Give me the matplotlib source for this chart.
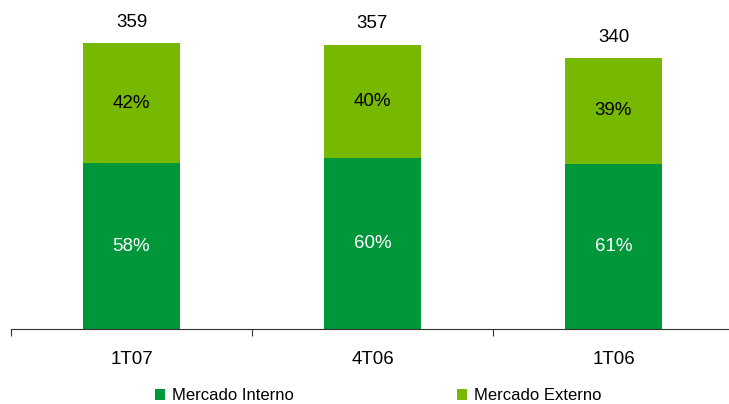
import matplotlib.pyplot as plt
import numpy as np

plt.rcParams['font.family'] = ['Liberation Sans', 'DejaVu Sans']

categories = ["1T07", "4T06", "1T06"]
totals = [359, 357, 340]
pct_interno = [58, 60, 61]
pct_externo = [42, 40, 39]

cor_interno = "#00963a"
cor_externo = "#77b800"

interno = np.array(totals) * np.array(pct_interno) / 100.0
externo = np.array(totals) - interno

fig = plt.figure(figsize=(7.29, 4.04), dpi=100)
ax = fig.add_axes([11 / 729, 75 / 404, 723 / 729, 329 / 404])

x = np.arange(len(categories))
ax.bar(x, interno, 0.4, color=cor_interno, label="Mercado Interno")
ax.bar(x, externo, 0.4, bottom=interno, color=cor_externo, label="Mercado Externo")

for i in range(len(categories)):
    ax.text(x[i], interno[i] / 2, "%d%%" % pct_interno[i], ha="center", va="center",
            color="white", fontsize=13.5)
    ax.text(x[i], interno[i] + externo[i] / 2, "%d%%" % pct_externo[i], ha="center",
            va="center", color="black", fontsize=13.5)
    ax.annotate(str(totals[i]), (x[i], totals[i]), xytext=(0, 15), textcoords="offset points",
                ha="center", va="center", fontsize=13.5)

ax.set_xlim(-0.5, len(categories) - 0.5)
ax.set_ylim(0, 413)
for s in ["top", "right", "left"]:
    ax.spines[s].set_visible(False)
ax.spines["bottom"].set_color("#333333")
ax.set_yticks([])
ax.set_xticks(np.arange(len(categories) + 1) - 0.5)
ax.set_xticklabels([])
ax.set_xticks(x, minor=True)
ax.set_xticklabels(categories, minor=True, fontsize=13.5)
ax.tick_params(axis="x", which="major", direction="out", length=5, color="#333333")
ax.tick_params(axis="x", which="minor", length=0, pad=16)

fig.legend(loc="center", bbox_to_anchor=(0.519, 8 / 404), ncol=2, frameon=False,
           fontsize=12, handlelength=0.6, handleheight=0.6, handletextpad=0.4,
           columnspacing=9.8)

fig.savefig("out.png", dpi=100)
